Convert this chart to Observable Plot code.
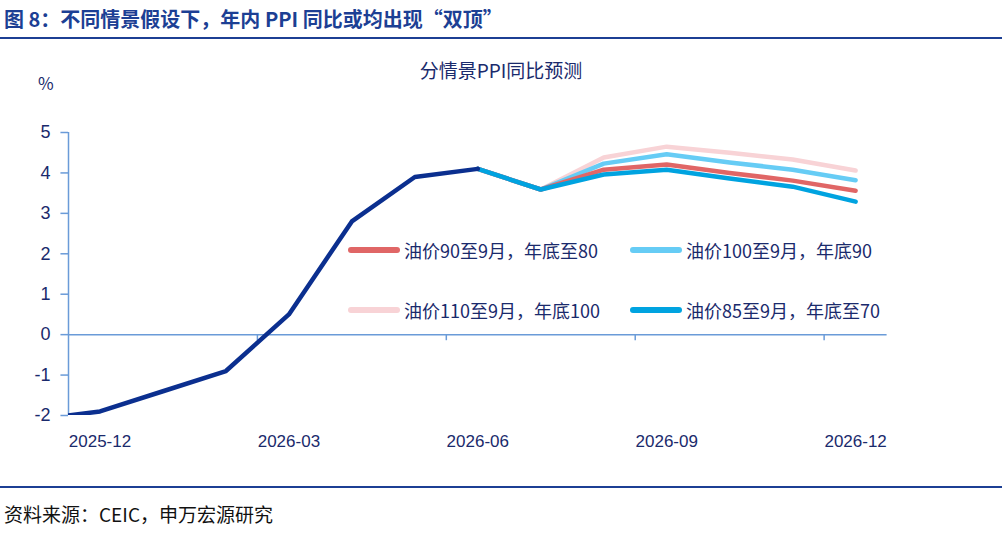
<!DOCTYPE html>
<html><head><meta charset="utf-8">
<script src="https://cdn.jsdelivr.net/npm/d3@7"></script>
<script src="https://cdn.jsdelivr.net/npm/@observablehq/plot@0.6"></script>
<style>
body{margin:0;background:#fff;font-family:"Noto Sans CJK SC",Arial,sans-serif;}
#wrap{position:relative;width:1002px;height:537px;overflow:hidden;}
.t{position:absolute;white-space:nowrap;}
#chart{position:absolute;left:0;top:90px;}
.lg{position:absolute;font-size:18px;color:#1a2a6c;display:flex;align-items:center;font-family:"Noto Sans CJK SC",sans-serif;}
.lg span.sw{display:inline-block;width:52px;height:6px;border-radius:3px;margin-right:4px;}
</style></head><body>
<div id="wrap">
<div class="t" style="left:4px;top:4px;font-size:20px;font-weight:bold;color:#1c3f94;">图 8：不同情景假设下，年内 PPI 同比或均出现“双顶”</div>
<div style="position:absolute;left:0;top:37px;width:1002px;height:2px;background:#1c3f94"></div>
<div class="t" style="left:0;width:1002px;text-align:center;top:56px;font-size:19px;color:#1a2a6c;">分情景PPI同比预测</div>
<div class="t" style="left:38px;top:70px;font-size:17px;color:#1a2a6c;">%</div>
<div id="chart"></div>
<div class="lg" style="left:348px;top:237px"><span class="sw" style="background:#E06666"></span>油价90至9月，年底至80</div>
<div class="lg" style="left:630px;top:237px"><span class="sw" style="background:#66CCF5"></span>油价100至9月，年底90</div>
<div class="lg" style="left:348px;top:297px"><span class="sw" style="background:#F8D3D6"></span>油价110至9月，年底100</div>
<div class="lg" style="left:630px;top:297px"><span class="sw" style="background:#00A3E0"></span>油价85至9月，年底至70</div>
<div style="position:absolute;left:0;top:486px;width:1002px;height:2px;background:#1c3f94"></div>
<div class="t" style="left:4px;top:500px;font-size:19px;color:#111;">资料来源：CEIC，申万宏源研究</div>
</div>
<script>
// month index: -1 = 2025-11, 0 = 2025-12 ... 12 = 2026-12
const histMonths = [-1,0,1,2,3,4,5,6];
const histValues = [-2.1,-1.9,-1.4,-0.9,0.5,2.8,3.9,4.1];
const scenMonths = [6,7,8,9,10,11,12];
const s90  = [4.1,3.59,4.08,4.21,4.00,3.81,3.56];
const s100 = [4.1,3.59,4.23,4.46,4.26,4.08,3.82];
const s110 = [4.1,3.59,4.38,4.65,4.50,4.33,4.06];
const s85  = [4.1,3.59,3.96,4.08,3.86,3.66,3.29];
const tickMonths = [0,3,6,9,12];
const tickLabels = ["2025-12","2026-03","2026-06","2026-09","2026-12"];
const yTicks = [-2,-1,0,1,2,3,4,5];

const mk = (m,v)=>m.map((x,i)=>({x,y:v[i]}));
const axisC="#6A9BD8", txtC="#1a2a6c";
const chart = Plot.plot({
  width:1002,height:400,marginLeft:68,marginRight:128,marginTop:42,marginBottom:75,
  x:{type:"linear",domain:[-0.5,12.3],axis:null},
  y:{type:"linear",domain:[-2,5],axis:null},
  style:{fontFamily:"Liberation Sans, Arial, sans-serif",fontSize:"17px",color:txtC},
  marks:[
    Plot.ruleX([-0.5],{x:d=>d,y1:-2,y2:5,stroke:axisC,strokeWidth:1.5}),
    Plot.ruleY(yTicks,{y:d=>d,x1:-0.5,x2:-0.62,stroke:axisC,strokeWidth:1.5}),
    Plot.ruleY([0],{y:d=>d,x1:-0.5,x2:12.5,stroke:axisC,strokeWidth:1.5}),
    Plot.text(yTicks,{x:()=>-0.5,y:d=>d,text:d=>String(d),dx:-18,textAnchor:"end",fill:txtC,fontSize:18}),
    Plot.text(tickMonths,{x:d=>d,y:()=>-2,text:(d,i)=>tickLabels[i],dy:26,fill:txtC,fontSize:17}),
    Plot.ruleX([2.5,5.5,8.5,11.5],{x:d=>d,y1:0,y2:-0.15,stroke:axisC,strokeWidth:1.5}),
    Plot.line(mk(scenMonths,s110),{x:"x",y:"y",stroke:"#F8D3D6",strokeWidth:4.5}),
    Plot.line(mk(scenMonths,s100),{x:"x",y:"y",stroke:"#66CCF5",strokeWidth:4.5}),
    Plot.line(mk(scenMonths,s90),{x:"x",y:"y",stroke:"#E06666",strokeWidth:4.5}),
    Plot.line(mk(scenMonths,s85),{x:"x",y:"y",stroke:"#00A3E0",strokeWidth:4.5}),
    Plot.line(mk(histMonths,histValues),{x:"x",y:"y",stroke:"#0B2F8F",strokeWidth:4.5,clip:true})
  ]
});
document.getElementById("chart").appendChild(chart);
</script>
</body></html>
